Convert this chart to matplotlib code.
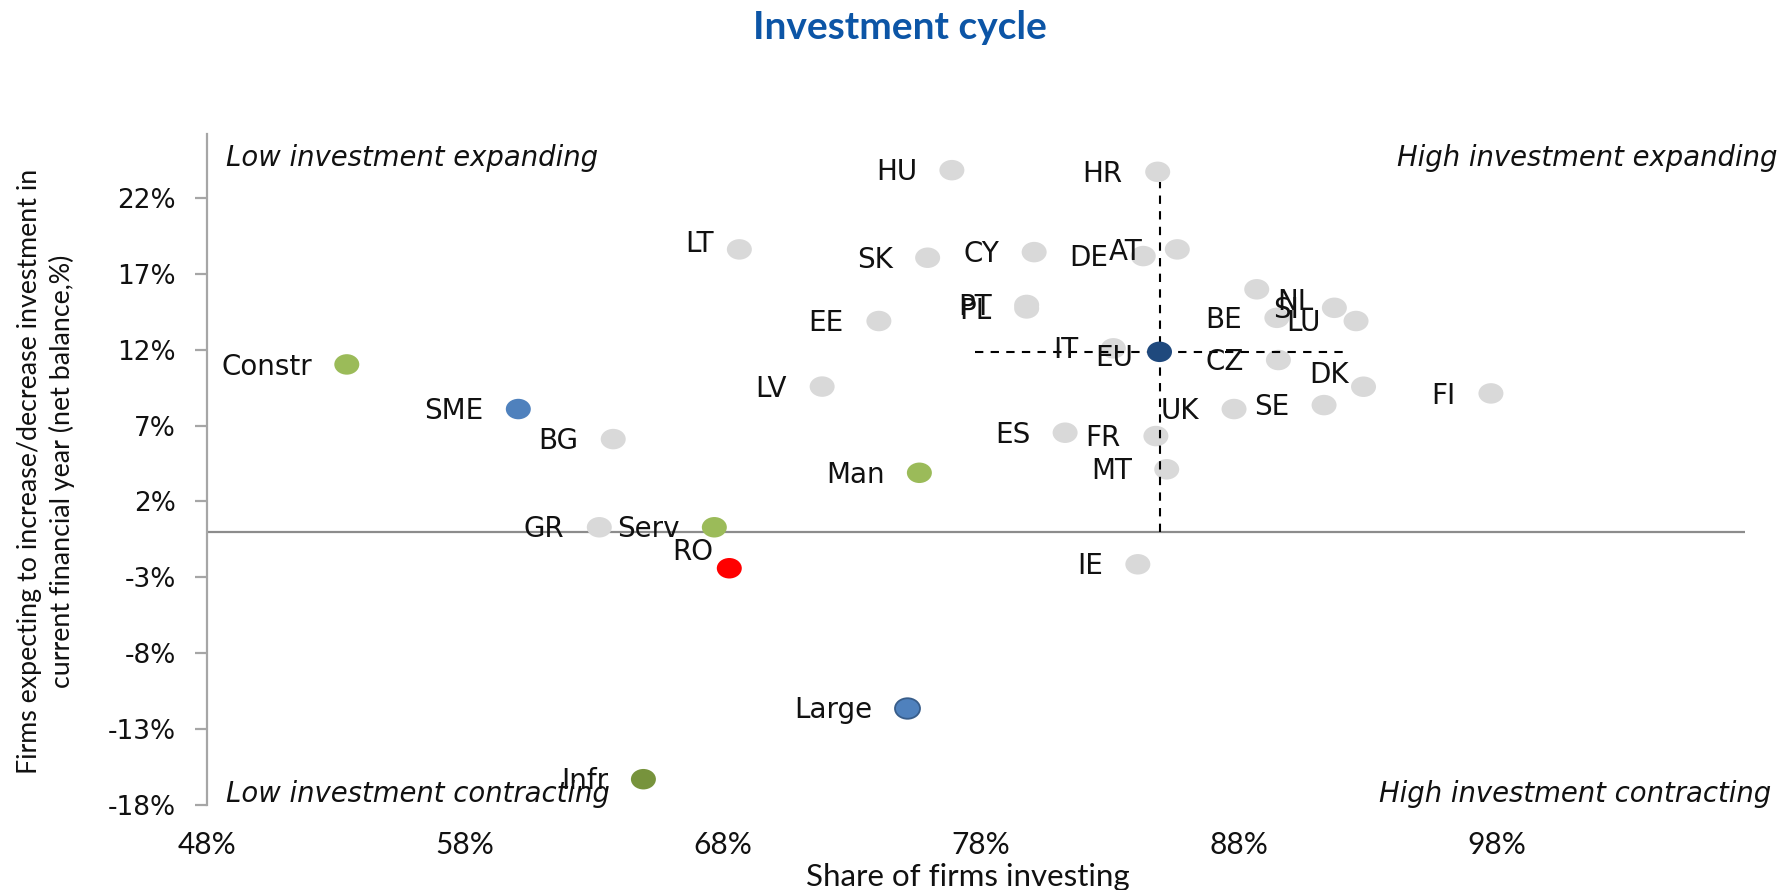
import matplotlib
matplotlib.use('Agg')
import matplotlib.pyplot as plt
from matplotlib.path import Path
from matplotlib.transforms import Affine2D
from matplotlib.ticker import PercentFormatter

plt.rcParams['axes.unicode_minus'] = False

# ---------------- data ----------------
countries = ['HU', 'HR', 'LT', 'SK', 'CY', 'DE', 'AT', 'PT', 'PL', 'EE', 'IT',
             'NL', 'BE', 'SI', 'LU', 'CZ', 'DK', 'SE', 'UK', 'FI', 'LV', 'ES',
             'FR', 'MT', 'IE', 'BG', 'GR']
country_x = [0.7688, 0.8486, 0.6864, 0.7594, 0.8007, 0.8430, 0.8562, 0.7978, 0.7978,
             0.7405, 0.8314, 0.8870, 0.8948, 0.9171, 0.9255, 0.8954, 0.9284, 0.9131,
             0.8782, 0.9778, 0.7185, 0.8127, 0.8479, 0.8521, 0.8409, 0.6375, 0.6321]
country_y = [0.2383, 0.2372, 0.1861, 0.1806, 0.1843, 0.1817, 0.1861, 0.1495, 0.1472,
             0.1389, 0.1209, 0.1598, 0.1410, 0.1476, 0.1389, 0.1132, 0.0956, 0.0835,
             0.0809, 0.0912, 0.0957, 0.0653, 0.0631, 0.0412, -0.0214, 0.0611, 0.0030]

ro_label, ro_x, ro_y = 'RO', 0.6825, -0.0240
eu_label, eu_x, eu_y = 'EU', 0.8493, 0.1186

sectors = ['Constr', 'Man', 'Serv']
sector_x = [0.5342, 0.7562, 0.6767]
sector_y = [0.1103, 0.0389, 0.0030]
infr_label, infr_x, infr_y = 'Infr', 0.6492, -0.1630

sizes = ['SME', 'Large']
size_x = [0.6007, 0.7515]
size_y = [0.0809, -0.1159]

# EU reference cross (dashed)
eu_hline_x = [0.7778, 0.9213]
eu_vline_y = [0.0, 0.2306]

x_ticks = [0.48, 0.58, 0.68, 0.78, 0.88, 0.98]
y_ticks = [-0.18, -0.13, -0.08, -0.03, 0.02, 0.07, 0.12, 0.17, 0.22]

title = 'Investment cycle'
x_title = 'Share of firms investing'
y_title = 'Firms expecting to increase/decrease investment in\ncurrent financial year (net balance,%)'
quadrants = ['Low investment expanding', 'High investment expanding',
             'Low investment contracting', 'High investment contracting']

# label offsets (px) for labels moved away from default left position
label_offsets = {'LT': (-26, 8), 'EU': (-26, -4), 'NL': (57, -11),
                 'DK': (-15, 14), 'RO': (-16, 18)}

# ---------------- figure ----------------
W, H = 1783, 890
fig = plt.figure(figsize=(W / 100, H / 100), dpi=100)
ax = fig.add_axes([207 / W, 1 - 805 / H, (1745.5 - 207) / W, (805 - 134.2) / H])
ax.set_xlim(0.48, 1.0765)
ax.set_ylim(-0.18, 0.262)

ell = Path.unit_circle().transformed(Affine2D().scale(1.22, 1.0))
MS = 18.0 ** 2
LFS = 20


def dots(x, y, color, edge=None, z=3):
    ax.scatter(x, y, s=MS, marker=ell, c=color,
               edgecolors=edge if edge else 'none',
               linewidths=1.3 if edge else 0, zorder=z)


PX = 72 / 100.0
CAP = 0.729 * LFS / 2


def label(name, x, y):
    dx, dy = label_offsets.get(name, (-35, 0))
    ax.annotate(name, (x, y), xytext=(dx * PX, dy * PX - CAP),
                textcoords='offset points', ha='right', va='baseline',
                fontsize=LFS, family='DejaVu Sans', color='#111111', zorder=6)


dots(country_x, country_y, '#D9D9D9')
for n, x, y in zip(countries, country_x, country_y):
    label(n, x, y)

dots([ro_x], [ro_y], '#FF0000')
label(ro_label, ro_x, ro_y)

dots(sector_x, sector_y, '#9BBB59')
for n, x, y in zip(sectors, sector_x, sector_y):
    label(n, x, y)
dots([infr_x], [infr_y], '#77933C')
label(infr_label, infr_x, infr_y)

dots([size_x[0]], [size_y[0]], '#4F81BD')
dots([size_x[1]], [size_y[1]], '#4F81BD', edge='#385D8A')
for n, x, y in zip(sizes, size_x, size_y):
    label(n, x, y)

ax.plot(eu_hline_x, [eu_y, eu_y], color='black', lw=1.5, ls=(0, (4, 3.5)), zorder=4)
ax.plot([eu_x, eu_x], eu_vline_y, color='black', lw=1.5, ls=(0, (4, 3.5)), zorder=4)
dots([eu_x], [eu_y], '#1F497D', z=5)
label(eu_label, eu_x, eu_y)

ax.axhline(0, color='#8C8C8C', lw=1.6, zorder=1)

# axes styling
for s in ['top', 'right', 'bottom']:
    ax.spines[s].set_visible(False)
ax.spines['left'].set_color('#A6A6A6')
ax.spines['left'].set_linewidth(1.6)

ax.set_yticks(y_ticks)
ax.yaxis.set_major_formatter(PercentFormatter(1.0, decimals=0))
ax.tick_params(axis='y', length=8.5, width=1.6, color='#A6A6A6', pad=14,
               labelsize=19, labelcolor='#111111')
for t in ax.get_yticklabels():
    t.set_family('DejaVu Sans')

ax.set_xticks(x_ticks)
ax.xaxis.set_major_formatter(PercentFormatter(1.0, decimals=0))
ax.tick_params(axis='x', length=0, pad=19, labelsize=21.5, labelcolor='#111111')
for t in ax.get_xticklabels():
    t.set_family('Lato')

# texts
fig.text(899.5 / W, 1 - 39 / H, title, ha='center', va='baseline',
         fontsize=28, fontweight='bold', family='Lato', color='#0C55A6')
fig.text(968 / W, 1 - 877 / H, x_title, ha='center', va='center',
         fontsize=22.5, family='Lato', color='#111111')
fig.text(46 / W, 1 - 471 / H, y_title, ha='center', va='center', rotation=90,
         multialignment='center', fontsize=19.3, family='Lato', color='#111111',
         linespacing=1.35)

qkw = dict(fontsize=19.8, family='DejaVu Sans', style='italic', color='#111111', va='baseline')
fig.text(226.5 / W, 1 - 166 / H, quadrants[0], ha='left', **qkw)
fig.text(1778 / W, 1 - 166 / H, quadrants[1], ha='right', **qkw)
fig.text(226.5 / W, 1 - 802 / H, quadrants[2], ha='left', **qkw)
fig.text(1771 / W, 1 - 802 / H, quadrants[3], ha='right', **qkw)

fig.savefig('out.png', dpi=100)
